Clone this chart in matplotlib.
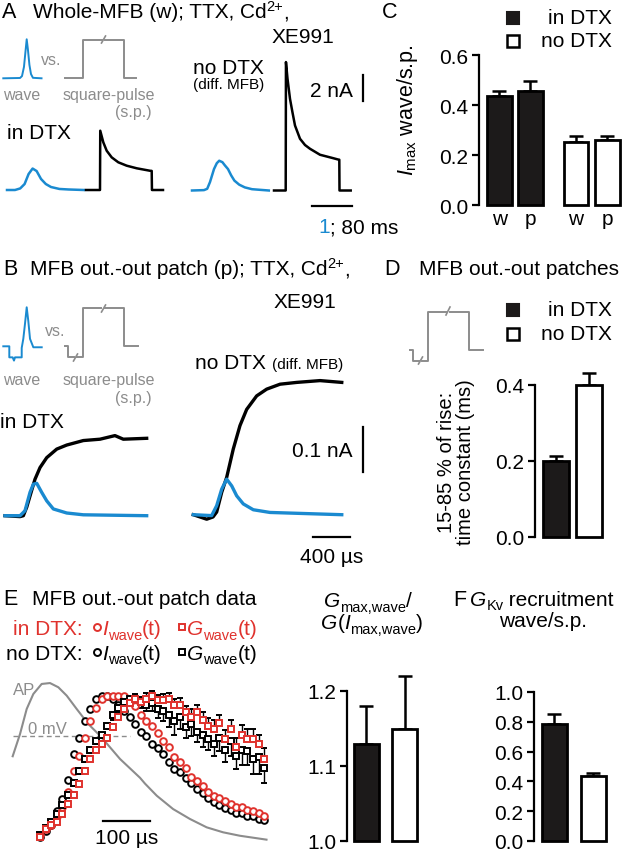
import numpy as np
import matplotlib
matplotlib.use('Agg')
import matplotlib.pyplot as plt
from matplotlib.ticker import FormatStrFormatter

plt.rcParams['font.family'] = ['Liberation Sans', 'DejaVu Sans']
plt.rcParams['mathtext.fontset'] = 'custom'
plt.rcParams['mathtext.rm'] = 'Liberation Sans'
plt.rcParams['mathtext.it'] = 'Liberation Sans:italic'
plt.rcParams['mathtext.bf'] = 'Liberation Sans:bold'

W, H = 622, 853
BLUE = '#1a8ad0'
GREY = '#8c8c8c'
RED = '#e0322d'
DARK = '#1c1a1a'
FS = 15

# ---- stimulus icons (time ms, voltage mV) ----
a_wave_icon_t = [0, 0.43, 0.48, 0.53, 0.57, 0.6, 0.63, 0.67, 0.71, 0.76, 0.98]
a_wave_icon_v = [-80, -79, -73, -45, 4, 40, 10, -39, -67, -78.5, -80]
a_sp_icon_t = [0, 0.45, 0.45, 0.95, np.nan, 1.03, 1.51, 1.51, 1.82]
a_sp_icon_v = [-80, -80, 38, 38, np.nan, 38, 38, -80, -80]
b_wave_icon_t = [0, 0.154, 0.154, 0.24, 0.274, 0.30, 0.472, 0.472, 0.513, 0.556, 0.60, 0.641, 0.685, 0.77, 0.985]
b_wave_icon_v = [-80, -80, -114, -114, -124, -114, -114, -85, -57, -11, 40, -2, -57, -83, -83]
b_sp_icon_t = [0, 0.085, 0.085, 0.23, np.nan, 0.31, 0.455, 0.455, 0.93, np.nan, 1.02, 1.51, 1.51, 1.88]
b_sp_icon_v = [-80, -80, -114, -114, np.nan, -114, -114, 37, 37, np.nan, 37, 37, -80, -80]

# ---- panel A: whole MFB currents (wave: ms, s.p.: ms; nA) ----
a_dtx_wave_t = [0, 0.2, 0.33, 0.44, 0.54, 0.64, 0.74, 0.85, 0.97, 1.1, 1.31, 1.54, 1.92]
a_dtx_wave_i = [0, 0, 0.12, 0.46, 1.23, 1.65, 1.46, 0.85, 0.46, 0.23, 0.08, 0.04, 0]
a_nodtx_wave_t = [0, 0.3, 0.38, 0.45, 0.55, 0.62, 0.68, 0.76, 0.82, 0.9, 0.98, 1.06, 1.18, 1.32, 1.5, 1.92]
a_nodtx_wave_i = [0, 0.03, 0.13, 0.65, 1.65, 2.1, 2.29, 2.18, 1.94, 1.65, 1.16, 0.76, 0.45, 0.24, 0.1, 0]
a_dtx_sp_t = [0, 28, 28.5, 34.6, 41.4, 51.4, 64.6, 81.4, 101.4, 128, 131.4, 131.9, 154]
a_dtx_sp_i = [0, 0, 4.56, 3.67, 3.02, 2.51, 2.13, 1.87, 1.67, 1.48, 1.47, 0, 0]
a_nodtx_sp_t = [0, 23.4, 23.9, 27, 32, 37, 42, 52, 62, 72, 92, 118, 128.6, 130.6, 131, 153.4]
a_nodtx_sp_i = [0, 0, 9.88, 8.6, 7.05, 6.0, 5.0, 3.98, 3.5, 3.21, 2.75, 2.49, 2.38, 2.37, 0, 0]

# ---- panel B: out-out patch currents (us, nA) ----
b_dtx_sp_t = [0, 164, 200, 237, 273, 327, 382, 455, 564, 673, 854, 1036, 1199, 1290, 1545]
b_dtx_sp_i = [0, -0.002, 0, 0.019, 0.044, 0.081, 0.107, 0.129, 0.148, 0.157, 0.167, 0.170, 0.178, 0.170, 0.172]
b_dtx_wave_t = [0, 164, 218, 273, 309, 346, 400, 455, 527, 673, 854, 1545]
b_dtx_wave_i = [0, 0, 0.011, 0.052, 0.070, 0.072, 0.052, 0.033, 0.015, 0.006, 0.002, 0]
b_nodtx_sp_t = [0, 146, 215, 255, 310, 364, 436, 509, 582, 691, 800, 946, 1128, 1382, 1619]
b_nodtx_sp_i = [0, -0.01, -0.005, 0.006, 0.050, 0.083, 0.146, 0.198, 0.234, 0.264, 0.279, 0.290, 0.294, 0.298, 0.294]
b_nodtx_wave_t = [0, 200, 255, 310, 364, 419, 473, 545, 654, 836, 1619]
b_nodtx_wave_i = [0, -0.002, 0.02, 0.057, 0.079, 0.064, 0.042, 0.024, 0.011, 0.005, 0]

# ---- panel C/D/E/F bars ----
c_labels = ['w', 'p', 'w', 'p']
c_vals = [0.435, 0.455, 0.252, 0.26]
c_errs = [0.02, 0.04, 0.023, 0.015]
d_vals = [0.2, 0.4]
d_errs = [0.012, 0.032]
g_vals = [1.13, 1.15]
g_errs = [0.05, 0.07]
f_vals = [0.785, 0.435]
f_errs = [0.065, 0.02]

# ---- panel E: normalised time courses (us) ----
ap_t = [-58.5, -42.8, -28.5, -14.3, 3.6, 21.4, 39.2, 57.2, 78.6, 103.4, 128.5, 149.9, 171.3,
        214, 225, 250, 285, 321, 357, 392, 428, 485]
ap_v = [-13.7, 1.1, 17.8, 27.8, 34.5, 35.1, 32.3, 26.7, 17.8, 7.8, 0, -7.7, -15.5,
        -28, -32, -40, -48.9, -55.5, -61.1, -64.4, -66.7, -69.3]
t_e = [0, 12, 24, 36, 48, 60, 72, 84, 96, 108, 120, 132, 144, 156, 168, 180, 192, 204, 216, 228,
       240, 252, 264, 276, 288, 300, 312, 324, 336, 348, 360, 372, 384, 396, 408, 420, 432, 444,
       456, 468, 480]
i_dtx = [0.06, 0.10, 0.13, 0.19, 0.25, 0.35, 0.49, 0.59, 0.71, 0.82, 0.91, 0.97, 0.99, 0.99, 0.99,
         0.99, 0.95, 0.92, 0.86, 0.82, 0.79, 0.74, 0.69, 0.65, 0.58, 0.55, 0.51, 0.45, 0.42, 0.39,
         0.35, 0.32, 0.31, 0.29, 0.27, 0.25, 0.25, 0.23, 0.22, 0.21, 0.19]
i_nodtx = [0.05, 0.09, 0.13, 0.22, 0.30, 0.43, 0.60, 0.71, 0.82, 0.90, 0.97, 0.99, 0.99, 0.97, 0.93,
           0.89, 0.85, 0.80, 0.75, 0.72, 0.67, 0.64, 0.60, 0.55, 0.50, 0.48, 0.44, 0.41, 0.37, 0.34,
           0.31, 0.28, 0.26, 0.24, 0.23, 0.21, 0.21, 0.19, 0.19, 0.17, 0.16]
g_dtx = [0.05, 0.10, 0.13, 0.15, 0.20, 0.27, 0.33, 0.40, 0.49, 0.57, 0.63, 0.67, 0.71, 0.78, 0.85,
         0.90, 0.94, 0.97, 0.95, 0.97, 0.99, 0.96, 0.96, 0.97, 0.93, 0.93, 0.88, 0.85, 0.88, 0.83,
         0.79, 0.77, 0.81, 0.70, 0.77, 0.65, 0.73, 0.70, 0.70, 0.67, 0.57]
g_dtx_err = [0.01, 0.01, 0.01, 0.01, 0.01, 0.015, 0.015, 0.015, 0.02, 0.02, 0.02, 0.02, 0.02, 0.02,
             0.02, 0.025, 0.025, 0.03, 0.03, 0.04, 0.03, 0.035, 0.04, 0.04, 0.04, 0.045, 0.04, 0.05,
             0.045, 0.05, 0.05, 0.06, 0.05, 0.06, 0.055, 0.06, 0.065, 0.07, 0.07, 0.06, 0.07]
g_nodtx = [0.06, 0.11, 0.15, 0.20, 0.26, 0.33, 0.41, 0.49, 0.57, 0.63, 0.69, 0.73, 0.79, 0.86, 0.91,
           0.95, 0.97, 0.97, 0.95, 0.93, 0.94, 0.90, 0.89, 0.86, 0.82, 0.85, 0.78, 0.80, 0.75, 0.73,
           0.70, 0.67, 0.71, 0.63, 0.69, 0.59, 0.63, 0.62, 0.57, 0.58, 0.51]
g_nodtx_err = [0.01, 0.01, 0.01, 0.015, 0.015, 0.015, 0.02, 0.02, 0.02, 0.02, 0.025, 0.025, 0.025,
               0.03, 0.03, 0.03, 0.035, 0.035, 0.04, 0.045, 0.05, 0.06, 0.07, 0.08, 0.09, 0.08, 0.07,
               0.08, 0.07, 0.08, 0.07, 0.08, 0.09, 0.08, 0.1, 0.09, 0.1, 0.09, 0.1, 0.11, 0.1]

fig = plt.figure(figsize=(W / 100, H / 100), dpi=100)
renderer = fig.canvas.get_renderer()

# overlay in pixel units for labels and scale bars
ov = fig.add_axes([0, 0, 1, 1])
ov.set_xlim(0, W)
ov.set_ylim(H, 0)
ov.set_axis_off()


def box(left, top, right, bottom):
    return [left / W, 1 - bottom / H, (right - left) / W, (bottom - top) / H]


def trace_axes(left, top, right, bottom, px_x, base, px_y, x0=0.0, y0=0.0):
    ax = fig.add_axes(box(left, top, right, bottom))
    ax.set_xlim(x0, x0 + (right - left) / px_x)
    ax.set_ylim(y0 - (bottom - base) / px_y, y0 + (base - top) / px_y)
    ax.set_axis_off()
    return ax


def bar_axes(left, top, right, bottom, xlim, ylim, yticks):
    ax = fig.add_axes(box(left, top, right, bottom))
    ax.set_xlim(*xlim)
    ax.set_ylim(*ylim)
    ax.patch.set_visible(False)
    for s in ['top', 'right', 'bottom']:
        ax.spines[s].set_visible(False)
    ax.spines['left'].set_linewidth(1.6)
    ax.set_yticks(yticks)
    ax.yaxis.set_major_formatter(FormatStrFormatter('%.1f'))
    ax.tick_params(axis='y', direction='out', length=4.8, width=1.6, labelsize=15, pad=3)
    ax.set_xticks([])
    return ax


def draw_bars(ax, pos, vals, errs, width, base=0.0):
    fills = [DARK, 'white'] if len(vals) == 2 else [DARK, DARK, 'white', 'white']
    bars = ax.bar(pos, [v - base for v in vals], width=width, bottom=base, color=fills,
                  edgecolor='black', linewidth=2.0, zorder=3)
    for b in bars:
        b.set_clip_on(False)
    eb = ax.errorbar(pos, vals, yerr=[np.zeros(len(vals)), errs], fmt='none', ecolor='black',
                     elinewidth=1.8, capsize=5, capthick=1.8, zorder=2)
    for art in list(eb[1]) + list(eb[2]):
        art.set_clip_on(False)


def txt(x, y, s, size=FS, **kw):
    ov.text(x, y, s, fontsize=size, va=kw.pop('va', 'baseline'), **kw)


def rich(x, y, parts, ha='left', color='black', size=FS):
    # parts: (text, size, style, dy) pieces laid out left to right
    items, cur = [], x
    for s, fs, style, dy in parts:
        t = ov.text(cur, y + dy, s, fontsize=fs or size, style=style, color=color, va='baseline')
        cur += t.get_window_extent(renderer=renderer).width
        items.append(t)
    if ha == 'center':
        shift = (cur - x) / 2
        for t in items:
            t.set_x(t.get_position()[0] - shift)
    return cur


SUB = 10.5


def sub(s):
    return (s, SUB, 'normal', 4.5)


def sup(s):
    return (s, SUB, 'normal', -7)


def n(s):
    return (s, None, 'normal', 0)


def it(s):
    return (s, None, 'italic', 0)


# ================= panel A =================
txt(2, 18, 'A', 15.5)
rich(33, 18, [n('Whole-MFB (w); TTX, Cd'), sup('2+'), n(',')])
txt(303, 43, 'XE991', ha='center')
txt(41, 65, 'vs.', 11.5, color=GREY)
txt(22, 100, 'wave', 11.5, color=GREY, ha='center')
txt(109, 100, 'square-pulse', 11.5, color=GREY, ha='center')
txt(133, 117, '(s.p.)', 11.5, color=GREY, ha='center')
txt(7, 139, 'in DTX')
txt(193, 74, 'no DTX')
txt(193, 89, '(diff. MFB)', 11)
txt(353, 97, '2 nA', ha='right')
ov.plot([363, 363], [76, 102], color='black', lw=1.6)
ov.plot([312, 352], [207, 207], color='black', lw=1.6)
x1 = rich(318, 233, [n('1')], color=BLUE)
rich(x1, 233, [n('; 80 ms')])

ax = trace_axes(3.3, 30, 45, 85, 39, 79.3, 0.325, y0=-80)
ax.plot(a_wave_icon_t, a_wave_icon_v, color=BLUE, lw=1.4, clip_on=False)
ax = trace_axes(65, 30, 140, 85, 39, 79.3, 0.325, y0=-80)
ax.plot(a_sp_icon_t, a_sp_icon_v, color=GREY, lw=1.4, clip_on=False)
ov.plot([101.5, 105.5], [44, 37], color=GREY, lw=1.2)

ax = trace_axes(7, 40, 90, 200, 40, 191, 13)
ax.plot(a_dtx_wave_t, a_dtx_wave_i, color=BLUE, lw=1.8, clip_on=False)
ax = trace_axes(86, 40, 170, 200, 0.5, 191, 13)
ax.plot(a_dtx_sp_t, a_dtx_sp_i, color='black', lw=1.8, clip_on=False)
ax = trace_axes(192, 40, 275, 200, 40, 191.5, 13)
ax.plot(a_nodtx_wave_t, a_nodtx_wave_i, color=BLUE, lw=1.8, clip_on=False)
ax = trace_axes(274, 40, 355, 200, 0.5, 191.5, 13)
ax.plot(a_nodtx_sp_t, a_nodtx_sp_i, color='black', lw=1.8, clip_on=False)

# ================= panel C =================
txt(382, 18, 'C', 15.5)
ov.plot(513, 19, 's', ms=8, mfc=DARK, mec=DARK, mew=1.5)
ov.plot(513, 42, 's', ms=8, mfc='white', mec='black', mew=1.8)
txt(612, 24, 'in DTX', ha='right')
txt(612, 47, 'no DTX', ha='right')
txt(408, 110, r'$I_{\mathrm{max}}$ wave/s.p.', 15.5, rotation=90, ha='center', va='center')
cx = bar_axes(479, 56, 622, 206, (-0.66, 3.95), (0, 0.6), [0, 0.2, 0.4, 0.6])
c_pos = [0, 1, 2.47, 3.48]
draw_bars(cx, c_pos, c_vals, c_errs, 0.8)
cx.set_xticks(c_pos, c_labels)
cx.tick_params(axis='x', length=0, labelsize=15, pad=3)

# ================= panel B =================
txt(3, 275, 'B', 15.5)
rich(30, 275, [n('MFB out.-out patch (p); TTX, Cd'), sup('2+'), n(',')])
txt(305, 308, 'XE991', ha='center')
txt(45, 336, 'vs.', 11.5, color=GREY)
txt(22, 385, 'wave', 11.5, color=GREY, ha='center')
txt(109, 385, 'square-pulse', 11.5, color=GREY, ha='center')
txt(133, 403, '(s.p.)', 11.5, color=GREY, ha='center')
txt(0, 428, 'in DTX')
txt(195, 369, 'no DTX')
txt(272, 369, '(diff. MFB)', 11)
txt(353, 457, '0.1 nA', ha='right')
ov.plot([363, 363], [428, 473], color='black', lw=1.6)
ov.plot([313, 350], [538, 538], color='black', lw=1.6)
txt(332, 563, '400 µs', ha='center')

ax = trace_axes(3.3, 300, 45, 365, 39, 347.3, 0.325, y0=-80)
ax.plot(b_wave_icon_t, b_wave_icon_v, color=BLUE, lw=1.4, clip_on=False)
ax = trace_axes(65, 300, 140, 365, 39, 347.3, 0.325, y0=-80)
ax.plot(b_sp_icon_t, b_sp_icon_v, color=GREY, lw=1.4, clip_on=False)
ov.plot([73.5, 77.5], [362, 355], color=GREY, lw=1.2)
ov.plot([101.5, 105.5], [313, 306], color=GREY, lw=1.2)

ax = trace_axes(5, 370, 160, 530, 0.0917, 516.7, 450)
ax.plot(b_dtx_sp_t, b_dtx_sp_i, color='black', lw=2.4, clip_on=False)
ax.plot(b_dtx_wave_t, b_dtx_wave_i, color=BLUE, lw=2.4, clip_on=False)
ax = trace_axes(193.3, 370, 350, 530, 0.0917, 515.7, 450)
ax.plot(b_nodtx_sp_t, b_nodtx_sp_i, color='black', lw=2.4, clip_on=False)
ax.plot(b_nodtx_wave_t, b_nodtx_wave_i, color=BLUE, lw=2.4, clip_on=False)

# ================= panel D =================
txt(384, 275, 'D', 15.5)
txt(419, 275, 'MFB out.-out patches')
ax = trace_axes(410, 300, 490, 370, 39, 351, 0.325, y0=-80)
ax.plot(b_sp_icon_t, b_sp_icon_v, color=GREY, lw=1.4, clip_on=False)
ov.plot([418.5, 422.5], [365, 358], color=GREY, lw=1.2)
ov.plot([446, 450], [316, 308], color=GREY, lw=1.2)
ov.plot(513, 311, 's', ms=8, mfc=DARK, mec=DARK, mew=1.5)
ov.plot(513, 335, 's', ms=8, mfc='white', mec='black', mew=1.8)
txt(612, 316, 'in DTX', ha='right')
txt(612, 340, 'no DTX', ha='right')
txt(456, 462, '15-85 % of rise:\ntime constant (ms)', 14.5, rotation=90, ha='center', va='center',
    linespacing=1.05, multialignment='center')
dx = bar_axes(535, 386, 612, 538, (-0.63, 1.7), (0, 0.4), [0, 0.2, 0.4])
draw_bars(dx, [0, 1], d_vals, d_errs, 0.77)

# ================= panel E =================
txt(3, 605, 'E', 15.5)
txt(32, 605, 'MFB out.-out patch data')
for y, col, lab, x0 in [(635, RED, 'in DTX:', 13), (660, 'black', 'no DTX:', 6)]:
    rich(x0, y, [n(lab)], color=col)
    ov.plot(97, y - 7, 'o', ms=5, mfc='white', mec=col, mew=1.4)
    rich(102, y, [it('I'), sub('wave'), n('(t)')], color=col)
    ov.plot(182, y - 7, 's', ms=5, mfc='white', mec=col, mew=1.4)
    rich(187, y, [it('G'), sub('wave'), n('(t)')], color=col)
txt(12.7, 695, 'AP', 12, color=GREY)
txt(28, 734, '0 mV', 12, color=GREY)
ov.plot([103, 150], [822, 822], color='black', lw=1.6)
txt(127, 844, '100 µs', ha='center')

ap = trace_axes(0, 670, 290, 853, 0.467, 736.7, 1.5, x0=-40 / 0.467)
ap.plot(ap_t, ap_v, color=GREY, lw=1.5, clip_on=False)
ap.plot([ap_t[0], 192], [0, 0], color=GREY, lw=1.0, dashes=(3.5, 2.5))

ex = trace_axes(0, 670, 290, 853, 0.467, 845, 150, x0=-40 / 0.467)
zeros = np.zeros(len(t_e))
mk = dict(ms=4.8, mfc='white', mew=1.4, ls='none')
ex.errorbar(t_e, g_nodtx, yerr=[g_nodtx_err, zeros], fmt='s', mec='black', ecolor='black',
            elinewidth=1.0, capsize=2.5, capthick=1.0, **mk)
ex.plot(t_e, i_nodtx, 'o', mec='black', **mk)
ex.plot(t_e, i_dtx, 'o', mec=RED, **mk)
ex.errorbar(t_e, g_dtx, yerr=[zeros, g_dtx_err], fmt='s', mec=RED, ecolor='black',
            elinewidth=1.0, capsize=2.5, capthick=1.0, **mk)

# G ratio panel
rich(368, 607, [it('G'), sub('max,wave'), n('/')], ha='center')
rich(372, 629, [it('G'), n('('), it('I'), sub('max,wave'), n(')')], ha='center')
gx = bar_axes(347, 692, 430, 842, (-0.506, 1.65), (1.0, 1.2), [1.0, 1.1, 1.2])
draw_bars(gx, [0, 1], g_vals, g_errs, 0.65, base=1.0)

# ================= panel F =================
txt(453, 606, 'F', 15.5)
rich(470, 606, [it('G'), sub('Kv'), n(' recruitment')])
txt(543, 627, 'wave/s.p.', ha='center')
fx = bar_axes(534, 693, 622, 842, (-0.53, 1.75), (0, 1.0), [0, 0.2, 0.4, 0.6, 0.8, 1.0])
draw_bars(fx, [0, 1], f_vals, f_errs, 0.65)

fig.savefig('out.png', dpi=100)
